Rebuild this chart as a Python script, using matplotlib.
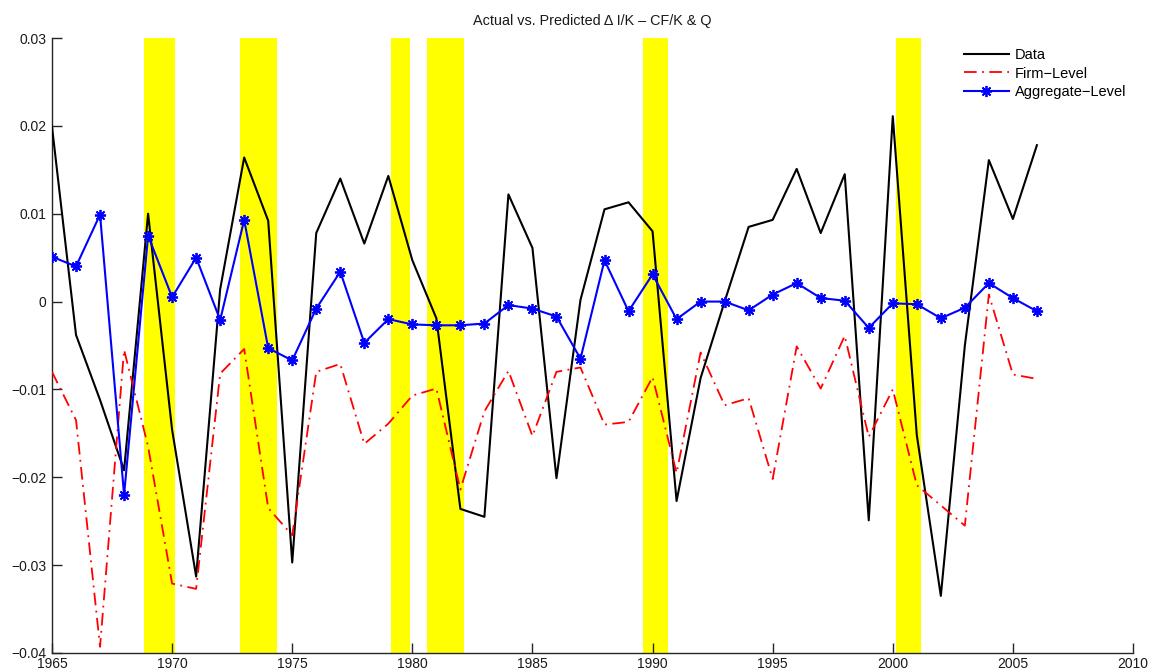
import matplotlib
matplotlib.use("Agg")
import matplotlib.pyplot as plt

years = list(range(1965, 2007))

data = [0.0199, -0.0038, -0.0112, -0.0192, 0.0100, -0.0146, -0.0313, 0.0014,
        0.0164, 0.0092, -0.0297, 0.0078, 0.0140, 0.0066, 0.0143, 0.0047,
        -0.0019, -0.0236, -0.0245, 0.0122, 0.0061, -0.0201, 0.0002, 0.0105,
        0.0113, 0.0080, -0.0227, -0.0087, 0.0000, 0.0085, 0.0093, 0.0151,
        0.0078, 0.0145, -0.0249, 0.0211, -0.0152, -0.0335, -0.0050, 0.0161,
        0.0094, 0.0178]

firm = [-0.0080, -0.0135, -0.0393, -0.0055, -0.0165, -0.0321, -0.0327, -0.0082,
        -0.0054, -0.0235, -0.0266, -0.0080, -0.0071, -0.0162, -0.0139, -0.0107,
        -0.0099, -0.0214, -0.0125, -0.0079, -0.0153, -0.0080, -0.0075, -0.0140,
        -0.0137, -0.0086, -0.0195, -0.0058, -0.0118, -0.0110, -0.0202, -0.0051,
        -0.0099, -0.0039, -0.0154, -0.0100, -0.0209, -0.0232, -0.0255, 0.0008,
        -0.0083, -0.0088]

aggregate = [0.0051, 0.0040, 0.0099, -0.0220, 0.0075, 0.0005, 0.0050, -0.0021,
             0.0093, -0.0053, -0.0067, -0.0008, 0.0034, -0.0047, -0.0020, -0.0026,
             -0.0027, -0.0027, -0.0025, -0.0004, -0.0008, -0.0017, -0.0065, 0.0047,
             -0.0011, 0.0031, -0.0020, 0.0000, 0.0000, -0.0010, 0.0008, 0.0021,
             0.0004, 0.0001, -0.0030, -0.0002, -0.0003, -0.0019, -0.0007, 0.0021,
             0.0004, -0.0011]

recession_start = [1968.83, 1972.83, 1979.10, 1980.60, 1989.60, 2000.12]
recession_end = [1970.12, 1974.38, 1979.90, 1982.15, 1990.66, 2001.18]

xticks = [1965, 1970, 1975, 1980, 1985, 1990, 1995, 2000, 2005, 2010]
yticks = [-0.04, -0.03, -0.02, -0.01, 0, 0.01, 0.02, 0.03]
ytick_labels = ["\u22120.04", "\u22120.03", "\u22120.02", "\u22120.01", "0", "0.01", "0.02", "0.03"]

plt.rcParams['font.family'] = ['Liberation Sans', 'DejaVu Sans']

fig = plt.figure(figsize=(11.52, 6.72), dpi=100)
ax = fig.add_axes([52/1152, 1 - 653/672, (1133 - 52)/1152, (653 - 38)/672])

for s, e in zip(recession_start, recession_end):
    ax.axvspan(s, e, color='#ffff00', lw=0, zorder=1)

ax.plot(years, data, color='black', lw=1.5, label='Data', zorder=3)
ax.plot(years, firm, color='#ff0000', lw=1.3, linestyle=(0, (7, 3, 1, 3)),
        label='Firm\u2212Level', zorder=3)
ax.plot(years, aggregate, color='#0000ff', lw=1.5, marker=(8, 2, 0), markersize=8,
        markeredgewidth=1.3, label='Aggregate\u2212Level', zorder=4)

ax.set_xlim(1965, 2010)
ax.set_ylim(-0.04, 0.03)
ax.set_xticks(xticks)
ax.set_xticklabels([str(t) for t in xticks])
ax.set_yticks(yticks)
ax.set_yticklabels(ytick_labels)

for side in ['top', 'right']:
    ax.spines[side].set_visible(False)
for side in ['left', 'bottom']:
    ax.spines[side].set_color('#262626')
    ax.spines[side].set_linewidth(1.0)

ax.tick_params(direction='in', length=7.5, width=1.0, color='#262626',
               labelsize=10, labelcolor='#1a1a1a')
ax.tick_params(axis='x', pad=3)
ax.tick_params(axis='y', pad=4)

ax.set_title('Actual vs. Predicted \u0394 I/K \u2013 CF/K & Q', fontsize=10.4,
             color='#1a1a1a', pad=9)

leg = ax.legend(loc='upper left', bbox_to_anchor=(0.838, 0.993), frameon=False,
                fontsize=10.5, handlelength=3.1, handletextpad=0.4,
                labelspacing=0.3, borderaxespad=0)

fig.savefig('out.png', dpi=100)
